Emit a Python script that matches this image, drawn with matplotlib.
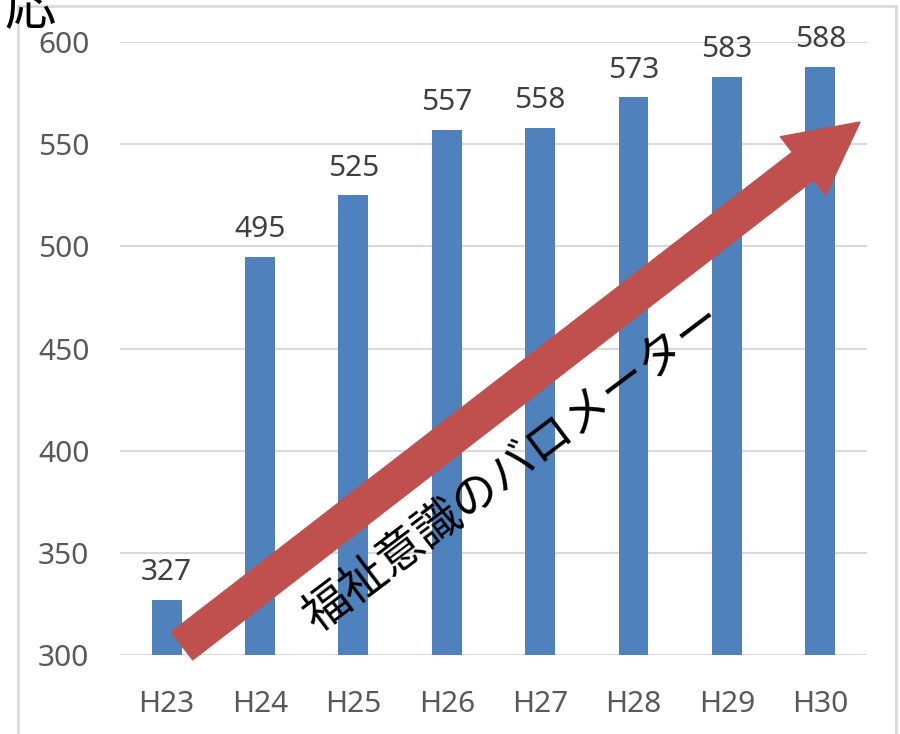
import matplotlib.pyplot as plt
import matplotlib.patches as mpatches

years = ['H23', 'H24', 'H25', 'H26', 'H27', 'H28', 'H29', 'H30']
counts = [327, 495, 525, 557, 558, 573, 583, 588]
yticks = [300, 350, 400, 450, 500, 550, 600]
arrow_text = '福祉意識のバロメーター'

plt.rcParams['font.family'] = ['Noto Sans', 'Noto Sans CJK JP', 'DejaVu Sans']

fig = plt.figure(figsize=(9, 7.34), dpi=100)
ax = fig.add_axes([0.1333, 0.1076, 0.83, 0.835])

bars = ax.bar(years, counts, width=0.32, color='#4F81BD', zorder=2)
for b, v in zip(bars, counts):
    ax.annotate(str(v), (b.get_x() + b.get_width() / 2, v), xytext=(0, 9),
                textcoords='offset points', ha='center', va='bottom',
                fontsize=21.5, color='#404040')

ax.set_ylim(300, 600)
ax.set_yticks(yticks)
ax.set_xlim(-0.5, len(years) - 0.5)
ax.grid(axis='y', color='#d9d9d9', linewidth=1.5, zorder=0)
for s in ax.spines.values():
    s.set_visible(False)
ax.tick_params(length=0, labelsize=21.5, labelcolor='#595959', pad=22)
ax.tick_params(axis='x', pad=25)

# chart area border
fig.patches.append(mpatches.Rectangle((0.02, -0.1), 0.976, 1.092, transform=fig.transFigure,
                                      fill=False, edgecolor='#d9d9d9', linewidth=2))

# big arrow (inch coordinates so the shape keeps its aspect)
arrow = mpatches.FancyArrow(1.82, 0.88, 6.78, 5.24, width=0.35, head_width=0.74,
                            head_length=0.72, length_includes_head=True,
                            color='#C0504D', transform=fig.dpi_scale_trans, zorder=5)
fig.patches.append(arrow)

fig.text(0.570, 0.362, arrow_text, rotation=37, rotation_mode='anchor',
         ha='center', va='center', fontsize=33.5, color='black',
         family=['Noto Sans CJK JP', 'DejaVu Sans'], zorder=6)

# cut-off title fragment at the top-left corner
fig.text(0.034, 0.986, '応', ha='center', va='center', fontsize=37, color='black',
         family=['Noto Sans CJK JP'])

fig.savefig('out.png', dpi=100)
